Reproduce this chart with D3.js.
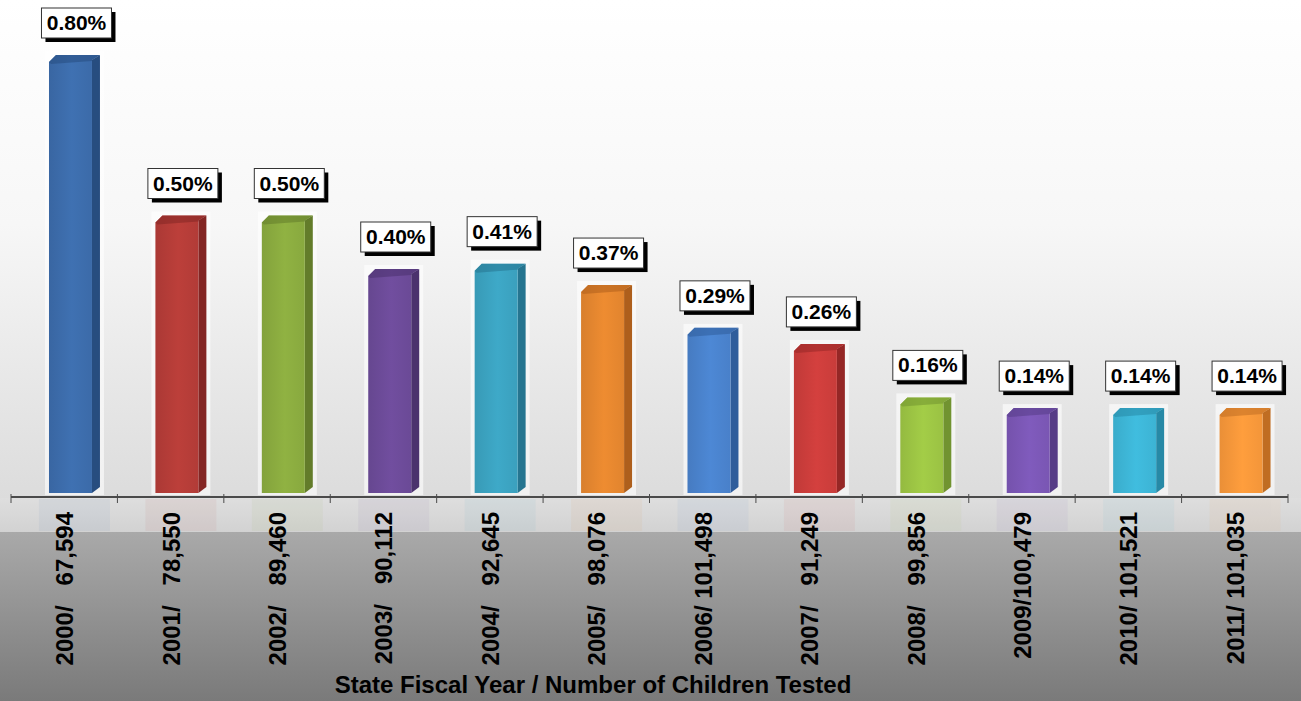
<!DOCTYPE html>
<html>
<head>
<meta charset="utf-8">
<script src="https://cdn.jsdelivr.net/npm/d3@7"></script>
<style>
  html, body { margin: 0; padding: 0; background: #fff; }
  svg { display: block; }
  text { font-family: "Liberation Sans", Arial, sans-serif; }
</style>
</head>
<body>
<svg id="chart" width="1301" height="701"></svg>
<script>
// Lead screening results by state fiscal year
const categories = ["2000/   67,594", "2001/   78,550", "2002/   89,460", "2003/   90,112",
                    "2004/   92,645", "2005/   98,076", "2006/ 101,498", "2007/   91,249",
                    "2008/   99,856", "2009/100,479", "2010/ 101,521", "2011/ 101,035"];
const percents = [0.80, 0.50, 0.50, 0.40, 0.41, 0.37, 0.29, 0.26, 0.16, 0.14, 0.14, 0.14];
const valueLabels = ["0.80%", "0.50%", "0.50%", "0.40%", "0.41%", "0.37%",
                     "0.29%", "0.26%", "0.16%", "0.14%", "0.14%", "0.14%"];
const axisTitle = "State Fiscal Year / Number of Children Tested";

// front colour, side colour per bar
const palette = [
  ["#3c6cab", "#274d7f"], ["#b43c38", "#832624"], ["#8aab3f", "#637c2a"],
  ["#6c4b98", "#4b326d"], ["#3ba2c0", "#267590"], ["#e4862f", "#ae5f1c"],
  ["#4a82cc", "#2f5d9b"], ["#cb3d3b", "#952726"], ["#9cc444", "#719330"],
  ["#7b57b5", "#563c86"], ["#3db5d6", "#2789a6"], ["#f7973a", "#c06d22"]
];

const W = 1301, H = 701;
const svg = d3.select("#chart");
const defs = svg.append("defs");

// background: white fading to light grey above the axis, darker grey band below
const bgTop = defs.append("linearGradient").attr("id", "bgTop")
  .attr("x1", 0).attr("y1", 0).attr("x2", 0).attr("y2", 1);
bgTop.append("stop").attr("offset", "0%").attr("stop-color", "#ffffff");
bgTop.append("stop").attr("offset", "45%").attr("stop-color", "#f7f7f7");
bgTop.append("stop").attr("offset", "100%").attr("stop-color", "#dcdcdc");

const bgBand = defs.append("linearGradient").attr("id", "bgBand")
  .attr("x1", 0).attr("y1", 0).attr("x2", 0).attr("y2", 1);
bgBand.append("stop").attr("offset", "0%").attr("stop-color", "#dedede");
bgBand.append("stop").attr("offset", "100%").attr("stop-color", "#d2d2d2");

const bgBottom = defs.append("linearGradient").attr("id", "bgBottom")
  .attr("x1", 0).attr("y1", 0).attr("x2", 0).attr("y2", 1);
bgBottom.append("stop").attr("offset", "0%").attr("stop-color", "#a9a9a9");
bgBottom.append("stop").attr("offset", "100%").attr("stop-color", "#7a7a7a");

svg.append("rect").attr("x", 0).attr("y", 0).attr("width", W).attr("height", 498).attr("fill", "url(#bgTop)");
svg.append("rect").attr("x", 0).attr("y", 498).attr("width", W).attr("height", 34).attr("fill", "url(#bgBand)");
svg.append("rect").attr("x", 0).attr("y", 532).attr("width", W).attr("height", H - 532).attr("fill", "url(#bgBottom)");

// scales
const x = d3.scaleBand().domain(categories).range([11, 1288]).padding(0);
const y = d3.scaleLinear().domain([0, 0.8]).range([483, 55]);
const bw = x.bandwidth();
const frontOff = bw * 0.357, frontW = bw * 0.404, sideW = bw * 0.075;
const floorY = y(0) + 10;
const chamfer = 7;

// per-bar shading gradients
palette.forEach((c, i) => {
  const g = defs.append("linearGradient").attr("id", "front" + i)
    .attr("x1", 0).attr("y1", 0).attr("x2", 1).attr("y2", 0);
  g.append("stop").attr("offset", "0%").attr("stop-color", d3.color(c[0]).darker(0.15));
  g.append("stop").attr("offset", "45%").attr("stop-color", d3.color(c[0]).brighter(0.12));
  g.append("stop").attr("offset", "100%").attr("stop-color", d3.color(c[0]).darker(0.1));
});

// faint reflections under the axis
const refl = svg.append("g").attr("opacity", 0.06);
categories.forEach((c, i) => {
  refl.append("rect")
    .attr("x", x(c) + frontOff - 10).attr("y", 499)
    .attr("width", frontW + sideW + 20).attr("height", 32)
    .attr("fill", palette[i][0]);
});

// bars
const bars = svg.append("g");
categories.forEach((c, i) => {
  const x0 = x(c) + frontOff;
  const top = y(percents[i]);
  const g = bars.append("g");
  // soft glow around the bar
  g.append("rect")
    .attr("x", x0 - 4).attr("y", top - 4)
    .attr("width", frontW + sideW + 8).attr("height", floorY - top + 6)
    .attr("fill", "#ffffff").attr("opacity", 0.6);
  // right side face
  g.append("path")
    .attr("d", `M${x0 + frontW},${top + 5} L${x0 + frontW + sideW},${top} L${x0 + frontW + sideW},${floorY - 6} L${x0 + frontW},${floorY} Z`)
    .attr("fill", palette[i][1]);
  // front face with a chamfered top-left corner
  g.append("path")
    .attr("d", `M${x0},${top + chamfer} L${x0 + chamfer},${top} L${x0 + frontW + sideW},${top} L${x0 + frontW},${top + 5} L${x0 + frontW},${floorY} L${x0},${floorY} Z`)
    .attr("fill", "url(#front" + i + ")");
  // top bevel strip
  g.append("path")
    .attr("d", `M${x0},${top + chamfer} L${x0 + chamfer},${top} L${x0 + frontW + sideW},${top} L${x0 + frontW},${top + 6} L${x0 + 2},${top + 9} Z`)
    .attr("fill", palette[i][1]).attr("opacity", 0.55);
});

// axis line and ticks
const axisY = 497;
const axisG = svg.append("g").attr("transform", `translate(0,${axisY})`);
const tickPos = categories.map(c => x(c)).concat([x(categories[categories.length - 1]) + bw]);
axisG.append("line").attr("x1", 11).attr("x2", 1288).attr("y1", 0).attr("y2", 0)
  .attr("stroke", "#4a4a4a").attr("stroke-width", 2.2);
axisG.selectAll("line.tick").data(tickPos).join("line").attr("class", "tick")
  .attr("x1", d => d).attr("x2", d => d).attr("y1", -3).attr("y2", 6)
  .attr("stroke", "#4a4a4a").attr("stroke-width", 1);

// category labels, rotated
svg.append("g").selectAll("text").data(categories).join("text")
  .attr("transform", d => `translate(${x(d) + bw / 2 + 9},512) rotate(-90)`)
  .attr("text-anchor", "end")
  .style("white-space", "pre")
  .attr("font-size", 24).attr("font-weight", "bold").attr("fill", "#000")
  .text(d => d);

// axis title
svg.append("text").attr("x", 593).attr("y", 693).attr("text-anchor", "middle")
  .attr("font-size", 24).attr("font-weight", "bold").attr("fill", "#000")
  .text(axisTitle);

// value label boxes with drop shadow
const labG = svg.append("g");
categories.forEach((c, i) => {
  const cx = x(c) + frontOff + (frontW + sideW) / 2 + 2;
  const bottom = y(percents[i]) - 17;
  const bwid = 70, bh = 30;
  labG.append("rect").attr("x", cx - bwid / 2 + 4).attr("y", bottom - bh + 4)
    .attr("width", bwid).attr("height", bh).attr("fill", "#000");
  labG.append("rect").attr("x", cx - bwid / 2).attr("y", bottom - bh)
    .attr("width", bwid).attr("height", bh).attr("fill", "#fff")
    .attr("stroke", "#333").attr("stroke-width", 1);
  labG.append("text").attr("x", cx).attr("y", bottom - 8).attr("text-anchor", "middle")
    .attr("font-size", 21).attr("font-weight", "bold").attr("fill", "#000")
    .text(valueLabels[i]);
});
</script>
</body>
</html>
